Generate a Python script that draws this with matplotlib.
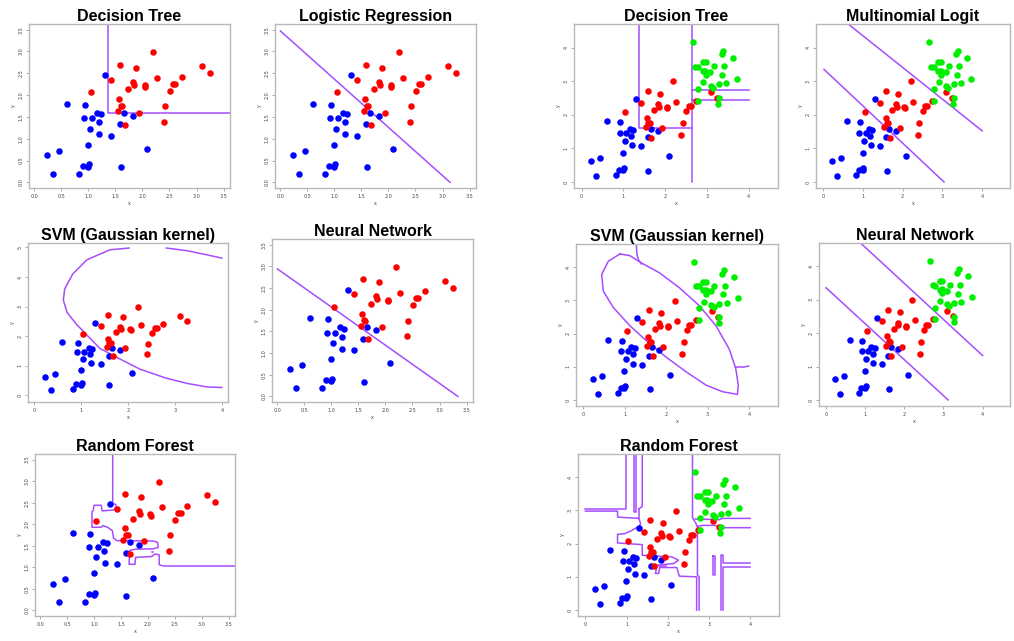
import matplotlib
matplotlib.use("Agg")
import matplotlib.pyplot as plt
import numpy as np

# class 1 (blue), class 2 (red), class 3 (green)
blue_x = [1.30, 0.60, 0.93, 1.16, 1.24, 0.91, 1.07, 1.19, 1.66, 1.83, 1.59, 1.03,
          1.20, 1.42, 0.99, 2.09, 0.23, 0.45, 0.90, 1.01, 0.99, 1.60, 0.35, 0.83]
blue_y = [2.46, 1.80, 1.78, 1.59, 1.56, 1.47, 1.47, 1.38, 1.59, 1.52, 1.33, 1.23,
          1.10, 1.07, 0.86, 0.76, 0.62, 0.72, 0.37, 0.41, 0.36, 0.34, 0.19, 0.20]
red_x = [2.20, 1.58, 1.88, 3.10, 3.25, 1.42, 1.83, 1.85, 2.27, 2.73, 2.56, 2.61, 2.04,
         2.05, 1.73, 2.51, 1.04, 1.57, 1.60, 1.63, 2.42, 1.54, 1.93, 2.39, 1.67]
red_y = [2.99, 2.70, 2.63, 2.67, 2.51, 2.35, 2.31, 2.24, 2.39, 2.42, 2.26, 2.26, 2.23,
         2.19, 2.13, 2.10, 2.07, 1.91, 1.76, 1.75, 1.74, 1.63, 1.60, 1.39, 1.32]
green_x = [2.66, 3.35, 3.39, 3.63, 2.90, 2.97, 2.72, 2.78, 3.16, 3.42, 2.90, 2.96, 3.08,
           2.97, 3.36, 3.73, 2.91, 3.09, 3.15, 3.28, 3.46, 2.79, 2.79, 3.28, 3.27]
green_y = [4.15, 3.81, 3.91, 3.70, 3.56, 3.56, 3.43, 3.42, 3.44, 3.44, 3.30, 3.31, 3.27,
           3.19, 3.18, 3.07, 2.96, 2.86, 2.80, 2.90, 2.93, 2.76, 2.42, 2.49, 2.32]

# decision boundaries (polylines, data units)
dt2_lines = [([1.36, 1.36, 3.62], [3.63, 1.60, 1.60])]
lr2_lines = [([0.0, 3.14], [3.47, 0.0])]
nn2_lines = [([0.0, 3.34], [2.94, 0.0])]
svm2_lines = [
    ([2.02, 1.61, 1.12, 0.82, 0.65, 0.62, 0.70, 0.90, 1.10, 1.40, 1.83, 2.25, 2.82, 3.25, 3.67, 3.99],
     [4.98, 4.92, 4.58, 4.10, 3.60, 3.22, 2.80, 2.40, 2.07, 1.58, 1.22, 0.88, 0.57, 0.40, 0.28, 0.26]),
    ([2.81, 3.25, 3.67, 3.99], [4.98, 4.89, 4.75, 4.64]),
]
rf2_lines = [
    ([1.345, 1.345, 1.40, 1.41, 1.36, 1.15, 1.13, 1.00, 0.98, 0.96, 0.96, 1.13, 1.16, 1.25,
      1.34, 1.36, 1.42, 2.10, 2.18, 2.19, 2.10, 1.76, 1.66, 1.65, 1.76, 1.77, 2.07, 2.13,
      2.21, 2.21, 2.29, 3.62],
     [3.62, 2.48, 2.46, 2.40, 2.33, 2.31, 2.44, 2.44, 2.31, 2.29, 1.93, 1.93, 1.97, 1.93,
      1.85, 1.68, 1.62, 1.61, 1.58, 1.46, 1.43, 1.42, 1.39, 1.07, 1.07, 1.23, 1.25, 1.31,
      1.29, 1.06, 1.03, 1.03]),
    ([2.07, 2.10], [1.35, 1.35]),
]

dt3_lines = [
    ([1.37, 1.37, 2.65], [4.70, 1.61, 1.61]),
    ([2.65, 2.65], [4.70, 0.0]),
    ([2.65, 4.0], [2.74, 2.74]),
    ([2.65, 4.0], [2.43, 2.43]),
]
ml3_lines = [
    ([0.02, 3.04], [3.35, 0.0]),
    ([0.65, 4.0], [4.68, 1.52]),
]
nn3_lines = [
    ([0.0, 3.12], [3.36, 0.0]),
    ([0.89, 4.0], [4.69, 1.33]),
]
svm3_lines = [
    ([0.88, 0.60, 0.44, 0.48, 0.72, 1.12, 1.56, 2.00, 2.48, 2.96, 3.36, 3.72, 3.74, 3.68,
      3.52, 3.20, 2.80, 2.32, 1.84, 1.40, 1.12, 0.88],
     [4.40, 4.18, 3.78, 3.28, 2.79, 2.24, 1.74, 1.29, 0.85, 0.45, 0.25, 0.17, 0.45, 0.95,
      1.54, 2.24, 2.84, 3.38, 3.83, 4.13, 4.35, 4.40]),
    ([1.28, 1.29, 1.33, 1.40], [4.65, 4.40, 4.22, 4.10]),
    ([3.67, 3.75, 3.85, 3.99], [0.98, 1.00, 0.99, 1.02]),
]
rf3_lines = [
    ([0.98, 0.98, 0.0], [4.66, 3.05, 3.05]),
    ([1.17, 1.17, 1.22, 1.22], [4.66, 2.95, 2.95, 4.66]),
    ([1.38, 1.38, 1.30], [4.66, 3.12, 3.05]),
    ([0.0, 0.78, 0.78, 1.30, 1.34, 1.30, 1.10, 0.95, 0.78, 0.78, 1.38, 1.38, 2.10, 2.26,
      2.14, 1.74, 1.70, 1.78, 1.80, 2.22, 2.28, 2.70, 2.70],
     [2.98, 2.98, 2.80, 2.76, 2.60, 2.52, 2.38, 2.30, 2.28, 2.02, 1.97, 1.65, 1.60, 1.50,
      1.40, 1.35, 1.10, 1.10, 1.28, 1.28, 1.02, 1.00, 0.0]),
    ([1.30, 1.30], [3.05, 2.76]),
    ([2.60, 2.60, 2.68, 2.72, 2.72, 2.76, 2.76], [4.66, 2.78, 2.62, 2.50, 1.05, 1.00, 0.0]),
    ([2.66, 2.80, 3.25, 3.32, 4.0], [2.74, 2.74, 2.72, 2.76, 2.76]),
    ([2.72, 2.85, 3.15, 3.30, 4.0], [2.52, 2.55, 2.55, 2.48, 2.48]),
    ([3.10, 3.10, 3.14, 3.14, 3.10], [1.62, 1.05, 1.05, 1.62, 1.62]),
    ([3.29, 3.29, 3.34, 3.34, 4.0], [0.0, 1.66, 1.66, 1.42, 1.42]),
    ([4.0, 3.34, 3.34], [1.30, 1.30, 0.0]),
    ([1.78, 1.95], [1.33, 1.33]),
]

W, H = 1014, 641
fig = plt.figure(figsize=(W / 100, H / 100), dpi=100)
LINE_COL = "#a64dff"


def add_panel(box, title, three_class, xlim, ylim, xticks, yticks, fmt, lines):
    x0, y0, x1, y1 = box
    ax = fig.add_axes([x0 / W, 1 - y1 / H, (x1 - x0) / W, (y1 - y0) / H])
    ax.scatter(blue_x, blue_y, s=22, color="#0000ff", zorder=3, linewidths=0)
    ax.scatter(red_x, red_y, s=22, color="#ff0000", zorder=3, linewidths=0)
    if three_class:
        ax.scatter(green_x, green_y, s=22, color="#00ee00", zorder=3, linewidths=0)
    for lx, ly in lines:
        ax.plot(lx, ly, color=LINE_COL, lw=1.1, zorder=2)
    ax.set_xlim(*xlim)
    ax.set_ylim(*ylim)
    ax.set_xticks(xticks)
    ax.set_yticks(yticks)
    ax.set_xticklabels([fmt % t for t in xticks], fontsize=3.5, color="#444444")
    ax.set_yticklabels([fmt % t for t in yticks], fontsize=3.5, color="#444444",
                       rotation=90, va="center")
    ax.tick_params(length=2, width=0.5, color="#888888", pad=2)
    ax.set_xlabel("x", fontsize=3.5, color="#444444", labelpad=2)
    ax.set_ylabel("y", fontsize=3.5, color="#444444", labelpad=2)
    for sp in ax.spines.values():
        sp.set_color("#b8b8b8")
        sp.set_linewidth(1.0)
    ax.set_title(title, fontsize=11.5, fontweight="bold", family="Liberation Sans", pad=1.5)
    return ax


t2 = [0.0, 0.5, 1.0, 1.5, 2.0, 2.5, 3.0, 3.5]
t3 = [0, 1, 2, 3, 4]
lim2x, lim2y = (-0.1, 3.62), (-0.13, 3.63)
lim3 = (-0.18, 4.7)

add_panel((29, 24, 230, 188), "Decision Tree", False, lim2x, lim2y, t2, t2, "%.1f", dt2_lines)
add_panel((275, 24, 476, 188), "Logistic Regression", False, lim2x, lim2y, t2, t2, "%.1f", lr2_lines)
add_panel((28, 243, 228, 402), "SVM (Gaussian kernel)", False, (-0.13, 4.12), (-0.23, 5.15),
          t3, [0, 1, 2, 3, 4, 5], "%d", svm2_lines)
add_panel((272, 239, 473, 402), "Neural Network", False, lim2x, lim2y, t2, t2, "%.1f", nn2_lines)
add_panel((35, 454, 235, 616), "Random Forest", False, lim2x, lim2y, t2, t2, "%.1f", rf2_lines)

add_panel((574, 24, 778, 188), "Decision Tree", True, lim3, lim3, t3, t3, "%d", dt3_lines)
add_panel((816, 24, 1010, 188), "Multinomial Logit", True, lim3, lim3, t3, t3, "%d", ml3_lines)
add_panel((576, 244, 778, 406), "SVM (Gaussian kernel)", True, lim3, lim3, t3, t3, "%d", svm3_lines)
add_panel((819, 243, 1010, 406), "Neural Network", True, lim3, lim3, t3, t3, "%d", nn3_lines)
add_panel((578, 454, 779, 616), "Random Forest", True, lim3, lim3, t3, t3, "%d", rf3_lines)

fig.savefig("out.png", dpi=100)
